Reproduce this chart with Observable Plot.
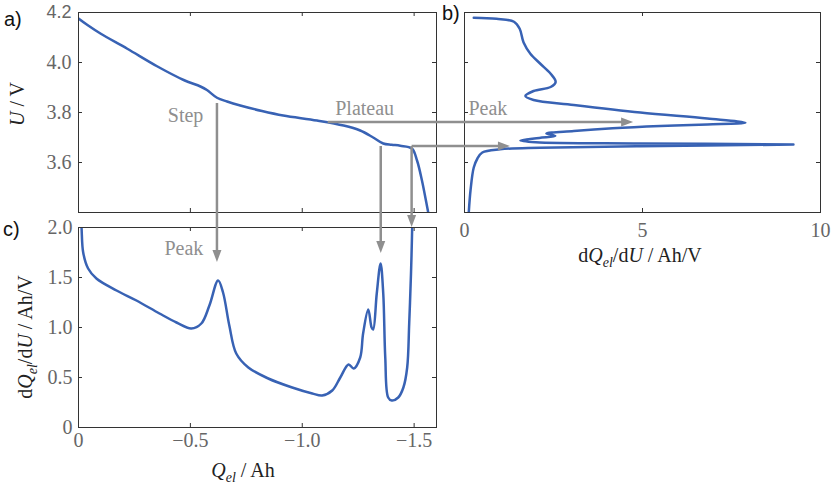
<!DOCTYPE html>
<html><head><meta charset="utf-8">
<script src="https://cdn.jsdelivr.net/npm/d3@7"></script>
<script src="https://cdn.jsdelivr.net/npm/@observablehq/plot@0.6"></script>
<style>
body{margin:0;background:#fff}
#fig{position:relative;width:833px;height:487px;overflow:hidden;background:#fff}
#fig svg{position:absolute}
</style></head><body><div id="fig"></div>
<script>
// ---- Panel a: voltage U vs charge Q
const qA = [0, -0.04, -0.098, -0.218, -0.351, -0.47, -0.545, -0.574, -0.619, -0.664, -0.723, -0.82, -0.915, -1.066, -1.185, -1.259, -1.317, -1.362, -1.40, -1.438, -1.49, -1.513, -1.535, -1.563, -1.57];
const uA = [4.176, 4.15, 4.116, 4.055, 3.985, 3.93, 3.904, 3.89, 3.859, 3.844, 3.828, 3.806, 3.788, 3.768, 3.748, 3.728, 3.70, 3.676, 3.671, 3.667, 3.656, 3.608, 3.528, 3.40, 3.37];

// ---- Panel b: dQ/dU vs U (parametric, in order of decreasing U)
const vB = [0.26, 0.9, 1.39, 1.55, 1.66, 1.85, 2.13, 2.42, 2.56, 2.42, 1.94, 1.71, 1.94, 3.07, 4.94, 6.82, 7.89, 6.82, 5.5, 4.16, 3.07, 2.3, 2.55, 2.1, 1.57, 2.0, 4.94, 9.24, 4.94, 2.13, 1.0, 0.5, 0.36, 0.26, 0.17, 0.12];
const uB = [4.179, 4.175, 4.163, 4.135, 4.08, 4.035, 3.995, 3.955, 3.922, 3.902, 3.886, 3.866, 3.85, 3.83, 3.80, 3.776, 3.759, 3.752, 3.746, 3.737, 3.726, 3.716, 3.706, 3.698, 3.688, 3.681, 3.676, 3.672, 3.665, 3.659, 3.653, 3.64, 3.615, 3.58, 3.49, 3.40];

// ---- Panel c: dQ/dU vs Q
const qC = [0.0, -0.006, -0.013, -0.021, -0.043, -0.08, -0.17, -0.259, -0.362, -0.438, -0.504, -0.549, -0.585, -0.624, -0.646, -0.674, -0.705, -0.759, -0.848, -0.955, -1.045, -1.089, -1.134, -1.17, -1.207, -1.23, -1.259, -1.272, -1.295, -1.31, -1.317, -1.333, -1.35, -1.362, -1.371, -1.384, -1.40, -1.429, -1.452, -1.469, -1.478, -1.486, -1.49, -1.494];
const vC = [2.6, 2.2, 2.02, 1.75, 1.59, 1.49, 1.37, 1.27, 1.14, 1.05, 0.99, 1.04, 1.22, 1.47, 1.35, 1.02, 0.74, 0.60, 0.49, 0.40, 0.34, 0.32, 0.37, 0.50, 0.63, 0.59, 0.70, 0.94, 1.18, 1.0, 0.98, 1.34, 1.64, 1.34, 0.70, 0.30, 0.27, 0.30, 0.40, 0.60, 1.04, 1.54, 1.87, 2.3];

// ---- Tick values / labels
const qTicks = [0, -0.5, -1.0, -1.5];
const uTicks = [3.6, 3.8, 4.0, 4.2];
const dTicksC = [0, 0.5, 1.0, 1.5, 2.0];
const dTicksB = [0, 5, 10];

// ---- Annotations (data coordinates)
const stepLabel = [{q: -0.558, u: 3.788, t: "Step"}];
const plateauLabel = [{q: -1.279, u: 3.816, t: "Plateau"}];
const peakLabelB = [{v: 0.11, u: 3.816, t: "Peak"}];
const peakLabelC = [{q: -0.558, v: 1.79, t: "Peak"}];
const stepArrow = {q: -0.621, u: 3.836, v: 1.65};
const plateauArrow = {q: -1.116, u: 3.76, v: 4.75};
const peakArrow = {q: -1.491, u: 3.664, v: 1.29};
const vArrow1 = {q: -1.353, u: 3.664, v: 1.74};
const vArrow2 = {q: -1.491, u: 3.664, v: 2.0};

const blue = "#3862b4", frameC = "#333", tickC = "#666", annC = "#8f8f8f";
const SERIF = "Liberation Serif";
const st = {background: "transparent", fontFamily: SERIF, fontSize: "20px", color: tickC, overflow: "visible"};
const fmt1 = d => d === 0 ? "0" : d3.format(".1f")(d).replace("-", "\u2212");
const txt = {fontFamily: SERIF, fontSize: 20};

function inTicksX(ticks, ph) {
  return [Plot.tickX(ticks, {x: d => d, insetTop: ph - 4, stroke: frameC}),
          Plot.tickX(ticks, {x: d => d, insetBottom: ph - 4, stroke: frameC})];
}
function inTicksY(ticks, pw) {
  return [Plot.tickY(ticks, {y: d => d, insetRight: pw - 4, stroke: frameC}),
          Plot.tickY(ticks, {y: d => d, insetLeft: pw - 4, stroke: frameC})];
}

const chartA = Plot.plot({
  width: 440, height: 222, marginLeft: 78, marginRight: 4, marginTop: 12, marginBottom: 10,
  x: {domain: [0, -1.6], axis: null},
  y: {domain: [3.4, 4.2], axis: null},
  style: st,
  marks: [
    ...inTicksX(qTicks, 200), ...inTicksY(uTicks, 358),
    Plot.axisY(uTicks.filter(d => d !== 4.2), {...txt, tickSize: 0, tickPadding: 7, tickFormat: d => d.toFixed(1), label: null}),
    Plot.axisY([4.2], {tickSize: 0, tickPadding: 7, tickFormat: d => d.toFixed(1), fontFamily: "Liberation Sans", fontSize: 18, label: null}),
    Plot.line(qA.map((q, i) => ({q, u: uA[i]})), {x: "q", y: "u", stroke: blue, strokeWidth: 2.5, curve: "catmull-rom", clip: true}),
    Plot.text(stepLabel, {...txt, x: "q", y: "u", text: "t", textAnchor: "end", fill: annC}),
    Plot.text(plateauLabel, {...txt, x: "q", y: "u", text: "t", textAnchor: "middle", fill: annC}),
    Plot.frame({stroke: frameC})
  ]
});

const chartB = Plot.plot({
  width: 393, height: 272, marginLeft: 24, marginRight: 13, marginTop: 12, marginBottom: 60,
  x: {domain: [0, 10]},
  y: {domain: [3.4, 4.2], axis: null},
  style: st,
  marks: [
    ...inTicksX(dTicksB, 200), ...inTicksY(uTicks, 356),
    Plot.axisX(dTicksB, {...txt, tickSize: 0, tickPadding: 10, tickFormat: d => String(d), label: null}),
    Plot.line(vB.map((v, i) => ({v, u: uB[i]})), {x: "v", y: "u", stroke: blue, strokeWidth: 2.5, curve: "catmull-rom", clip: true}),
    Plot.text(peakLabelB, {...txt, x: "v", y: "u", text: "t", textAnchor: "start", fill: annC}),
    Plot.frame({stroke: frameC})
  ]
});

const chartC = Plot.plot({
  width: 440, height: 272, marginLeft: 78, marginRight: 4, marginTop: 12, marginBottom: 60,
  x: {domain: [0, -1.6]},
  y: {domain: [0, 2.0]},
  style: st,
  marks: [
    ...inTicksX(qTicks, 200), ...inTicksY(dTicksC, 358),
    Plot.axisX(qTicks, {...txt, tickSize: 0, tickPadding: 5, tickFormat: fmt1, label: null}),
    Plot.axisY(dTicksC, {...txt, tickSize: 0, tickPadding: 6, tickFormat: fmt1, label: null}),
    Plot.line(qC.map((q, i) => ({q, v: vC[i]})), {x: "q", y: "v", stroke: blue, strokeWidth: 2.5, curve: "catmull-rom", clip: true}),
    Plot.text(peakLabelC, {...txt, x: "q", y: "v", text: "t", textAnchor: "end", fill: annC}),
    Plot.frame({stroke: frameC})
  ]
});

const fig = document.getElementById("fig");
const offs = [[chartA, 0, 0], [chartB, 440, 0], [chartC, 0, 215]];
for (const [c, l, t] of offs) {
  c.style.left = l + "px"; c.style.top = t + "px"; c.style.fontFamily = SERIF;
  fig.appendChild(c);
}

function sc(chart, name, off) {
  const s = chart.scale(name);
  const f = s.apply ? v => s.apply(v) : d3.scaleLinear(s.domain, s.range);
  return v => f(v) + off;
}
const xa = sc(chartA, "x", 0), ya = sc(chartA, "y", 0);
const xb = sc(chartB, "x", 440), yb = sc(chartB, "y", 0);
const xc = sc(chartC, "x", 0), yc = sc(chartC, "y", 215);

const ov = d3.select(fig).append("svg").attr("width", 833).attr("height", 487)
  .style("left", "0px").style("top", "0px").style("pointer-events", "none");

function arrow(x1, y1, x2, y2) {
  const L = 12, w = 4.5;
  const dx = x2 - x1, dy = y2 - y1, len = Math.hypot(dx, dy), ux = dx / len, uy = dy / len;
  const bx = x2 - ux * L, by = y2 - uy * L;
  ov.append("line").attr("x1", x1).attr("y1", y1).attr("x2", bx + ux * 2).attr("y2", by + uy * 2)
    .attr("stroke", annC).attr("stroke-width", 2.5);
  ov.append("path").attr("d", `M${x2},${y2}L${bx - uy * w},${by + ux * w}L${bx + uy * w},${by - ux * w}Z`).attr("fill", annC);
}
arrow(xa(stepArrow.q), ya(stepArrow.u), xc(stepArrow.q), yc(stepArrow.v));
arrow(xa(plateauArrow.q), ya(plateauArrow.u), xb(plateauArrow.v), yb(plateauArrow.u));
arrow(xa(peakArrow.q), ya(peakArrow.u), xb(peakArrow.v), yb(peakArrow.u));
arrow(xa(vArrow1.q), ya(vArrow1.u), xc(vArrow1.q), yc(vArrow1.v));
arrow(xa(vArrow2.q), ya(vArrow2.u), xc(vArrow2.q), yc(vArrow2.v));

function rich(x, y, parts, rotate) {
  const t = ov.append("text").attr("font-family", SERIF).attr("font-size", 20)
    .attr("fill", "#222").attr("text-anchor", "middle")
    .attr("transform", `translate(${x},${y})` + (rotate ? " rotate(-90)" : ""));
  for (const p of parts) {
    const s = t.append("tspan").text(p.t);
    if (p.i) s.attr("font-style", "italic");
    if (p.sub) s.attr("font-size", 14).attr("dy", 5);
    if (p.up) s.attr("dy", -5);
  }
}
const dqdu = [{t: "d"}, {t: "Q", i: true}, {t: "el", i: true, sub: true}, {t: "/d", up: true}, {t: "U", i: true}, {t: " / Ah/V"}];
rich(24, 104, [{t: "U", i: true}, {t: " / V"}], true);
rich(32, 337, dqdu, true);
rich(640, 262, dqdu, false);
rich(243, 477, [{t: "Q", i: true}, {t: "el", i: true, sub: true}, {t: " / Ah", up: true}], false);

const lettersP = [["a)", 4, 26], ["b)", 442, 20], ["c)", 3, 236]];
for (const [s, x, y] of lettersP)
  ov.append("text").attr("x", x).attr("y", y).attr("font-family", "Liberation Sans")
    .attr("font-size", 20).attr("fill", "#111").text(s);
</script></body></html>
